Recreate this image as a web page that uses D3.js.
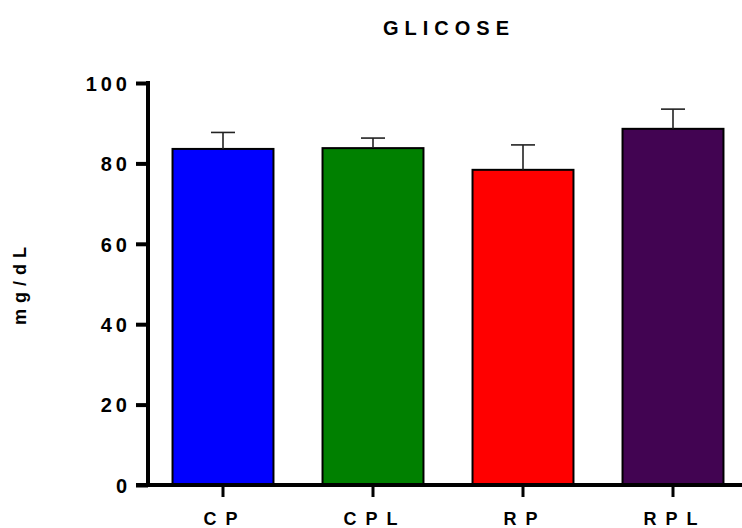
<!DOCTYPE html>
<html><head><meta charset="utf-8">
<script src="https://cdn.jsdelivr.net/npm/d3@7"></script>
<style>body{margin:0;background:#fff}svg{display:block}text{font-family:"Liberation Sans",Arial,sans-serif;font-weight:bold;fill:#000}</style>
</head><body>
<svg id="c" width="742" height="528"></svg>
<script>
const categories = ["CP","CPL","RP","RPL"];
const means = [83.6, 83.8, 78.4, 88.6];
const errors = [4.1, 2.5, 6.2, 4.9];
const colors = ["#0000FF","#008000","#FF0000","#420452"];
const yTicks = [0,20,40,60,80,100];
const title = "GLICOSE";
const yLabel = "mg/dL";

const svg = d3.select("#c");
const x = d3.scaleBand().domain(categories).range([148,748]).paddingInner(0.327).paddingOuter(0.1635);
const y = d3.scaleLinear().domain([0,100]).range([485,83]);

// bars
svg.selectAll("rect.bar").data(categories).join("rect")
  .attr("x", d=>x(d)).attr("width", x.bandwidth())
  .attr("y", (d,i)=>y(means[i])).attr("height",(d,i)=>y(0)-y(means[i]))
  .attr("fill",(d,i)=>colors[i]).attr("stroke","#000").attr("stroke-width",2);

// error bars
const eb = svg.append("g").attr("stroke","#222").attr("stroke-width",1.6);
categories.forEach((d,i)=>{
  const cx = x(d)+x.bandwidth()/2;
  eb.append("line").attr("x1",cx).attr("x2",cx).attr("y1",y(means[i])).attr("y2",y(means[i]+errors[i]));
  eb.append("line").attr("x1",cx-12).attr("x2",cx+12).attr("y1",y(means[i]+errors[i])).attr("y2",y(means[i]+errors[i]));
});

const FONT = '"Liberation Sans",Arial,sans-serif';

// y axis
const ya = svg.append("g").attr("transform","translate(148,0)")
  .call(d3.axisLeft(y).tickValues(yTicks).tickSize(12).tickPadding(0).tickSizeOuter(0));
ya.select(".domain").attr("stroke-width",4).attr("d","M0,"+(y(100)-2)+"V"+(y(0)));
ya.selectAll(".tick line").attr("stroke-width",4);
ya.selectAll(".tick text").attr("x",-17).attr("dy","0.36em")
  .style("font-size","20px").style("letter-spacing","4px").style("font-family",FONT).style("font-weight","bold");

// x axis
const xa = svg.append("g").attr("transform","translate(0,485)")
  .call(d3.axisBottom(x).tickSize(12).tickPadding(0).tickSizeOuter(0));
xa.select(".domain").attr("stroke-width",4).attr("d","M136,0H748");
xa.selectAll(".tick line").attr("stroke-width",3);
xa.selectAll(".tick text").attr("y",40).attr("dy",0).attr("dx","2px")
  .style("font-size","18px").style("letter-spacing","9px").style("font-family",FONT).style("font-weight","bold");

// title
svg.append("text").attr("x",449).attr("y",35).attr("text-anchor","middle")
  .style("font-size","20px").style("letter-spacing","6px").text(title);

// y label
svg.append("text").attr("transform","translate(26,286) rotate(-90)").attr("text-anchor","middle")
  .attr("dx","3px").style("font-size","18px").style("letter-spacing","6px").text(yLabel);
</script>
</body></html>
